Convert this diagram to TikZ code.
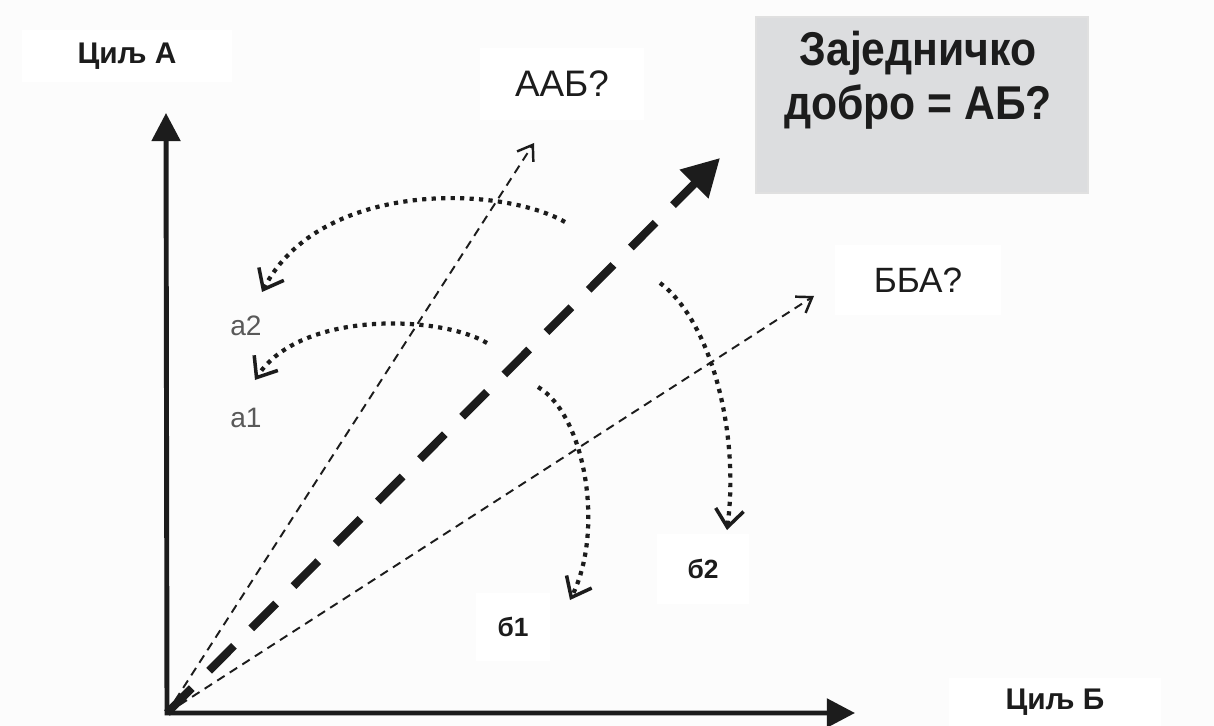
\documentclass[tikz,border=0pt]{standalone}
\usepackage{fontspec}
\setmainfont{Liberation Sans}
\newfontfamily\narrowfont[FakeStretch=0.9]{Liberation Sans}
\usetikzlibrary{arrows.meta}
\definecolor{ink}{HTML}{1C1C1C}
\definecolor{boxgray}{HTML}{DCDDDF}
\definecolor{paper}{HTML}{FCFCFC}
\tikzset{
	axis/.style={line width=2.8pt, draw=ink, line join=miter, {Triangle[length=16pt,width=16pt]}-{Triangle[length=16pt,width=16pt]}},
	goalline/.style={line width=4.6pt, draw=ink, dash pattern=on 20pt off 14pt, -{Triangle[length=21pt,width=22pt]}},
	ideal/.style={line width=1.1pt, draw=ink, dash pattern=on 5pt off 3.5pt, -{Straight Barb[length=8pt,width=11pt,line width=1.4pt]}},
	swing/.style={line width=2.4pt, draw=ink, dash pattern=on 2.4pt off 3pt, -{Straight Barb[length=10pt,width=16pt,line width=2pt]}},
	tag/.style={fill=white, inner sep=0pt, text=ink},
	small/.style={text=black!65, font=\fontsize{16}{19}\selectfont}
}
\begin{document}
\begin{tikzpicture}[x=0.02cm, y=-0.02cm]
		%%%%% START %%%%%
		
		\fill[paper] (0, 0) rectangle (1214, 726);
		\useasboundingbox (0, 0) rectangle (1214, 726);
		
		% labels on white boxes
		\node[tag, minimum width=4.22cm, minimum height=1.04cm, font=\fontsize{17}{20}\selectfont\bfseries] (goalA) at (127, 56) {Циљ А};
		\node[tag, minimum width=4.26cm, minimum height=0.96cm, font=\fontsize{17}{20}\selectfont\bfseries] (goalB) at (1055, 702) {Циљ Б};
		\node[tag, minimum width=3.3cm, minimum height=1.44cm, font=\fontsize{21}{25}\selectfont] (aab) at (562, 84) {ААБ?};
		\node[tag, minimum width=3.34cm, minimum height=1.4cm, font=\fontsize{20}{24}\selectfont] (bba) at (918, 280) {ББА?};
		\node[tag, minimum width=1.48cm, minimum height=1.38cm, font=\fontsize{15}{18}\selectfont\bfseries] (b1) at (513, 627) {б1};
		\node[tag, minimum width=1.86cm, minimum height=1.4cm, font=\fontsize{15}{18}\selectfont\bfseries] (b2) at (703, 569) {б2};
		
		% common good box
		\node[fill=boxgray, draw=black!12, line width=0.8pt, minimum width=6.64cm, minimum height=3.52cm] (common) at (922, 105) {};
		\node[align=center, inner sep=0pt, text=ink, font=\narrowfont\fontsize{27}{31}\selectfont\bfseries] (commontext) at (918, 80) {Заједничко\\добро = АБ?};
		
		\node[small] (a2) at (246, 326) {а2};
		\node[small] (a1) at (246, 418) {а1};
		
		% axes and rays
		\coordinate (O) at (167, 713);
		\coordinate (ytip) at (166, 113);
		\coordinate (xtip) at (855, 713);
		\coordinate (goaltip) at (720, 158);
		\coordinate (aabtip) at (534, 143);
		\coordinate (bbatip) at (814, 296);
		
		\draw[ideal] (O) -- (aabtip);
		\draw[ideal] (O) -- (bbatip);
		\draw[goalline] (O) -- (goaltip);
		\draw[axis] (ytip) -- (O) -- (xtip);
		
		% swings towards a and b
		\coordinate (s1) at (565, 222);
		\coordinate (e1) at (262, 292);
		\coordinate (s2) at (487, 343);
		\coordinate (e2) at (255, 380);
		\coordinate (s3) at (538, 387);
		\coordinate (e3) at (570, 600);
		\coordinate (s4) at (660, 283);
		\coordinate (e4) at (727, 530);
		
		\draw[swing] (s1) .. controls (500, 185) and (320, 180) .. (e1);
		\draw[swing] (s2) .. controls (440, 315) and (300, 310) .. (e2);
		\draw[swing] (s3) .. controls (585, 415) and (605, 530) .. (e3);
		\draw[swing] (s4) .. controls (710, 320) and (740, 430) .. (e4);
		
		%%%%% END %%%%%
\end{tikzpicture}
\end{document}
